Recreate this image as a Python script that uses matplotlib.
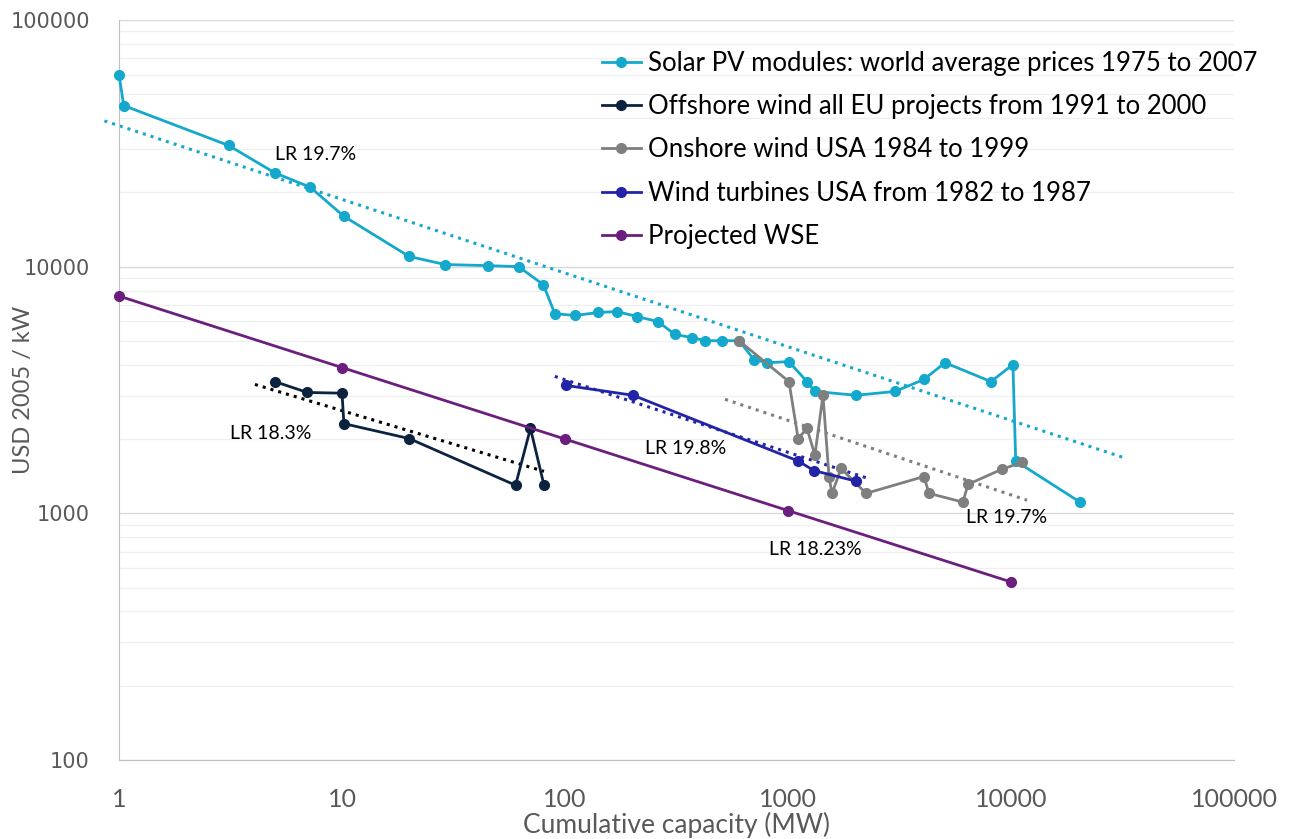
import numpy as np
import matplotlib.pyplot as plt

# Solar PV modules: world average prices 1975 to 2007
pv_x = [1, 1.05, 3.1, 5, 7.2, 10.2, 20, 29, 45, 62, 80, 90, 111, 141, 171, 210, 261, 311, 371,
        425, 506, 603, 704, 805, 1010, 1217, 1320, 2020, 3020, 4070, 5060, 8130, 10200, 10500, 20400]
pv_y = [60000, 45000, 31000, 24000, 21000, 16000, 11000, 10200, 10100, 10000, 8450, 6450, 6340, 6520,
        6580, 6280, 5990, 5310, 5160, 5010, 5010, 5010, 4200, 4080, 4120, 3420, 3120, 3010, 3120,
        3490, 4080, 3420, 4010, 1630, 1110]
pv_trend_x = [0.86, 31500]
pv_trend_y = [39000, 1690]

# Offshore wind all EU projects from 1991 to 2000
off_x = [5.0, 7.0, 10, 10.2, 20, 60, 70, 80.5]
off_y = [3420, 3090, 3070, 2310, 2010, 1300, 2210, 1300]
off_trend_x = [4.07, 80.5]
off_trend_y = [3330, 1480]

# Onshore wind USA 1984 to 1999
on_x = [603, 1010, 1110, 1217, 1320, 1435, 1528, 1575, 1730, 2240, 4070, 4290, 6090, 6410, 9120, 11200]
on_y = [5010, 3420, 2010, 2210, 1720, 3010, 1400, 1205, 1520, 1205, 1410, 1205, 1110, 1310, 1510, 1610]
on_trend_x = [522, 11800]
on_trend_y = [2900, 1130]

# Wind turbines USA from 1982 to 1987
wt_x = [101, 202, 1110, 1308, 2020]
wt_y = [3300, 3010, 1630, 1490, 1350]
wt_trend_x = [90, 2260]
wt_trend_y = [3590, 1390]

# Projected WSE
wse_x = [1, 10, 100, 1000, 10000]
wse_y = [7600, 3900, 2000, 1026, 527]

# learning-rate labels
lr_text = ['LR 19.7%', 'LR 18.3%', 'LR 19.8%', 'LR 19.7%', 'LR 18.23%']
lr_x = [7.65, 4.8, 349, 9600, 1320]
lr_y = [28600, 2110, 1830, 964, 715]

c_pv = '#14A9CC'
c_off = '#0C2340'
c_on = '#7F7F7F'
c_wt = '#2323A8'
c_wse = '#6C1E7E'

plt.rcParams['font.family'] = ['Lato', 'DejaVu Sans']

fig = plt.figure(figsize=(12.91, 8.39), dpi=100)
ax = fig.add_axes([119 / 1291, 1 - 760 / 839, (1234 - 119) / 1291, 740 / 839])
ax.set_xscale('log')
ax.set_yscale('log')
ax.set_xlim(1, 100000)
ax.set_ylim(100, 100000)

lw = 2.0
ms = 7
ax.plot(pv_trend_x, pv_trend_y, ':', color=c_pv, lw=2.2, clip_on=False)
ax.plot(off_trend_x, off_trend_y, ':', color='black', lw=2.2)
ax.plot(on_trend_x, on_trend_y, ':', color=c_on, lw=2.2)
ax.plot(wt_trend_x, wt_trend_y, ':', color=c_wt, lw=2.2)

ax.plot(pv_x, pv_y, '-o', color=c_pv, lw=lw, ms=ms, clip_on=False, zorder=3,
        label='Solar PV modules: world average prices 1975 to 2007')
ax.plot(off_x, off_y, '-o', color=c_off, lw=lw, ms=ms, zorder=3,
        label='Offshore wind all EU projects from 1991 to 2000')
ax.plot(on_x, on_y, '-o', color=c_on, lw=lw, ms=ms, zorder=3,
        label='Onshore wind USA 1984 to 1999')
ax.plot(wt_x, wt_y, '-o', color=c_wt, lw=lw, ms=ms, zorder=3,
        label='Wind turbines USA from 1982 to 1987')
ax.plot(wse_x, wse_y, '-o', color=c_wse, lw=lw, ms=ms, clip_on=False, zorder=3,
        label='Projected WSE')

for t, x, y in zip(lr_text, lr_x, lr_y):
    ax.text(x, y, t, fontsize=14, ha='center', va='center', color='black')

# grid like excel
ax.grid(True, which='major', axis='y', color='#D9D9D9', lw=1.0)
ax.grid(True, which='minor', axis='y', color='#F0F0F0', lw=1.0)
ax.set_axisbelow(True)
for s in ['top', 'right']:
    ax.spines[s].set_visible(False)
ax.spines['left'].set_color('#BFBFBF')
ax.spines['bottom'].set_color('#BFBFBF')
ax.tick_params(which='both', length=0)
ax.tick_params(axis='x', labelsize=18, labelcolor='#595959', pad=20)
ax.tick_params(axis='y', pad=21)

ax.set_xticks([1, 10, 100, 1000, 10000, 100000])
ax.set_xticklabels(['1', '10', '100', '1000', '10000', '100000'])
ax.set_yticks([100, 1000, 10000, 100000])
ax.set_yticklabels(['100', '1000', '10000', '100000'], family='DejaVu Sans',
                   fontsize=15, color='#595959')

ax.set_xlabel('Cumulative capacity (MW)', fontsize=19, color='#595959', labelpad=1)
ax.set_ylabel('USD 2005 / kW', fontsize=17, color='#595959')
ax.yaxis.set_label_coords(-85 / 1115, 0.5)

ax.legend(loc='upper left', bbox_to_anchor=(602 / 1291, 1 - 51 / 839),
          bbox_transform=fig.transFigure, frameon=False, fontsize=18.5,
          handlelength=1.5, handletextpad=0.3, labelspacing=0.71, borderpad=0,
          borderaxespad=0)

plt.savefig('out.png', dpi=100)
